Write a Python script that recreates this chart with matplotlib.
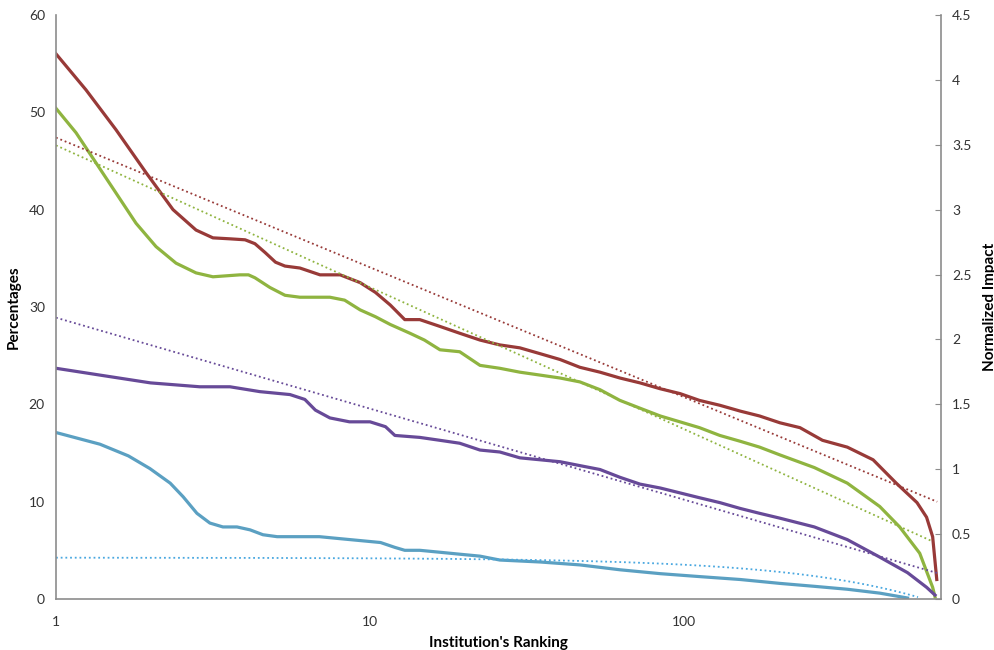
import numpy as np
import matplotlib.pyplot as plt

plt.rcParams['font.family'] = ['Lato', 'DejaVu Sans']

# ranks and values (left axis, percent)
red_rank = [1, 1.246, 1.553, 1.935, 2.358, 2.792, 3.16, 3.58, 4.0, 4.3, 4.63, 5.0, 5.36, 5.98,
            6.93, 8.03, 9.3, 10.4, 11.6, 12.9, 14.4, 16.7, 19.3, 22.4, 25.9, 30.0, 34.8,
            40.3, 46.6, 54.0, 62.5, 72.4, 83.9, 97.1, 112, 130, 151, 174, 202, 234, 276,
            331, 400, 474, 552, 592, 619, 638]
red_val = [56.0, 52.3, 48.2, 43.8, 40.0, 37.9, 37.1, 37.0, 36.9, 36.5, 35.6, 34.6, 34.2, 34.0,
           33.3, 33.3, 32.5, 31.5, 30.2, 28.7, 28.7, 28.0, 27.3, 26.6, 26.1, 25.8, 25.2,
           24.6, 23.8, 23.3, 22.7, 22.2, 21.6, 21.1, 20.4, 19.9, 19.3, 18.8, 18.1, 17.6, 16.3,
           15.6, 14.3, 11.9, 9.9, 8.4, 6.4, 2.0]

green_rank = [1, 1.158, 1.341, 1.553, 1.798, 2.082, 2.411, 2.792, 3.16, 3.85, 4.1, 4.30, 4.8,
              5.36, 5.98, 7.45, 8.3, 9.3, 10.4, 11.6, 13.4, 14.9, 16.7, 19.3, 22.4, 25.9,
              30.0, 34.8, 40.3, 46.6, 54, 62.5, 72.4, 84, 97, 112, 130, 151, 174, 202, 260,
              331, 420, 486, 563, 619, 630]
green_val = [50.4, 47.9, 44.8, 41.7, 38.6, 36.2, 34.5, 33.5, 33.1, 33.3, 33.3, 33.0, 32.0,
             31.2, 31.0, 31.0, 30.7, 29.7, 29.0, 28.2, 27.3, 26.6, 25.6, 25.4, 24.0, 23.7,
             23.3, 23.0, 22.7, 22.3, 21.5, 20.4, 19.6, 18.8, 18.2, 17.6, 16.8, 16.2, 15.6, 14.8, 13.5,
             11.9, 9.5, 7.4, 4.7, 1.2, 0.2]

purple_rank = [1, 1.38, 2.0, 2.87, 3.58, 4.46, 5.56, 6.2, 6.7, 7.45, 8.6, 10, 11.2, 12.0,
               14.4, 16.7, 19.3, 22.4, 25.9, 30.0, 34.8, 40.3, 46.6, 54, 62.5, 72.4, 84,
               97, 112, 130, 151, 174, 202, 260, 331, 420, 515, 592, 630]
purple_val = [23.7, 23.0, 22.2, 21.8, 21.8, 21.3, 21.0, 20.5, 19.4, 18.6, 18.2, 18.2, 17.7, 16.8,
              16.6, 16.3, 16.0, 15.3, 15.1, 14.5, 14.3, 14.1, 13.7, 13.3, 12.5, 11.8, 11.4,
              10.9, 10.4, 9.9, 9.3, 8.8, 8.3, 7.4, 6.1, 4.3, 2.7, 1.2, 0.4]

blue_rank = [1, 1.38, 1.7, 1.99, 2.31, 2.54, 2.81, 3.09, 3.40, 3.77, 4.15, 4.56, 5.06, 5.98,
             6.9, 8.0, 9.3, 10.8, 12.0, 12.9, 14.4, 16.7, 19.3, 22.4, 25.9, 34.8, 46.6,
             62.5, 84, 112, 151, 202, 260, 331, 420, 515]
blue_val = [17.1, 15.9, 14.7, 13.4, 11.9, 10.5, 8.8, 7.8, 7.4, 7.4, 7.1, 6.6, 6.4, 6.4,
            6.4, 6.2, 6.0, 5.8, 5.3, 5.0, 5.0, 4.8, 4.6, 4.4, 4.0, 3.8, 3.5,
            3.0, 2.6, 2.3, 2.0, 1.6, 1.3, 1.0, 0.6, 0.1]

# trend lines: (intercept, slope, last rank); log trends y = a + b*ln(x), blue is linear
red_trend = (47.4, -5.79, 640)
green_trend = (46.6, -6.33, 619)
purple_trend = (28.9, -4.06, 640)
blue_trend = (4.25, -0.0073, 556)

RED = '#983a38'
GREEN = '#8fb440'
PURPLE = '#674a98'
BLUE = '#5ba0c2'

fig = plt.figure(figsize=(9.95, 6.5), dpi=100)
ax = fig.add_axes([0.0563, 0.0785, 0.8894, 0.8985])

for r, v, c in [(red_rank, red_val, RED), (green_rank, green_val, GREEN),
                (purple_rank, purple_val, PURPLE), (blue_rank, blue_val, BLUE)]:
    ax.plot(r, v, color=c, lw=2.3, solid_joinstyle='round')

for (a, b, end), c in [(red_trend, RED), (green_trend, GREEN), (purple_trend, PURPLE)]:
    xs = np.array([1, end])
    ax.plot(xs, a + b * np.log(xs), color=c, lw=1.3, ls=(0, (1, 1.6)))
a, b, end = blue_trend
xs = np.linspace(1, end, 300)
ax.plot(xs, a + b * xs, color='#4aa8e0', lw=1.3, ls=(0, (1, 1.6)))

ax.set_xscale('log')
ax.set_xlim(1, 658)
ax.set_ylim(0, 60)
ax.set_xticks([1, 10, 100])
ax.set_xticklabels(['1', '10', '100'])
ax.xaxis.set_minor_locator(plt.NullLocator())
ax.set_yticks(range(0, 61, 10))
ax.tick_params(axis='both', length=0, labelsize=10, colors='#333333', pad=12)
ax.tick_params(axis='y', pad=8)
for s in ['top', 'right']:
    ax.spines[s].set_visible(False)
for s in ['left', 'bottom']:
    ax.spines[s].set_color('#8c8c8c')
    ax.spines[s].set_linewidth(1.2)
ax.set_xlabel("Institution's Ranking", fontsize=11, fontweight='bold', labelpad=6)
ax.set_ylabel('Percentages', fontsize=11, fontweight='bold', labelpad=6)

ax2 = ax.twinx()
ax2.set_ylim(0, 4.5)
ax2.set_yticks(np.arange(0, 4.6, 0.5))
ax2.set_yticklabels(['0', '0.5', '1', '1.5', '2', '2.5', '3', '3.5', '4', '4.5'])
ax2.tick_params(axis='y', direction='in', length=4, color='#8c8c8c', labelsize=10,
                labelcolor='#333333', pad=8)
for s in ['top', 'left', 'bottom']:
    ax2.spines[s].set_visible(False)
ax2.spines['right'].set_color('#8c8c8c')
ax2.spines['right'].set_linewidth(1.2)
ax2.set_ylabel('Normalized Impact', fontsize=11, fontweight='bold', labelpad=8)

fig.savefig('out.png', dpi=100)
